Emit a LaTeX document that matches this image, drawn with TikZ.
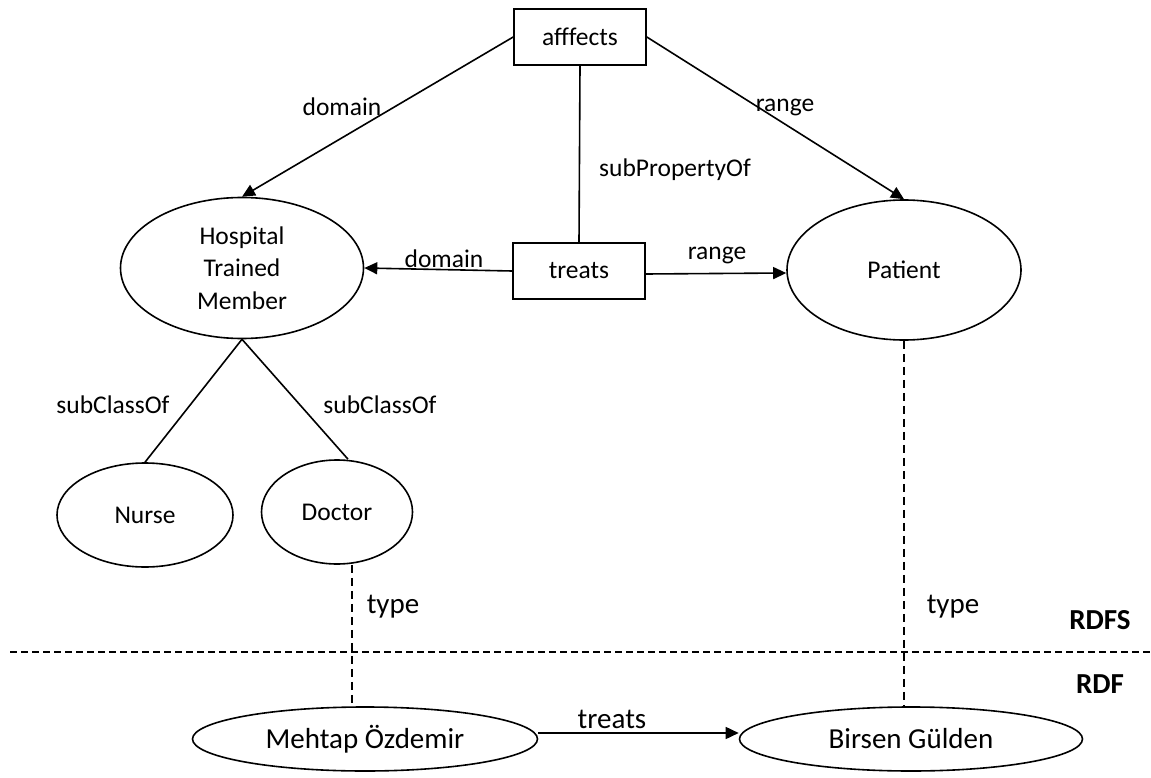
\documentclass[tikz,border=0pt]{standalone}
\usepackage{fontspec}
\setmainfont{Carlito}
\usetikzlibrary{arrows.meta,shapes.geometric}
\begin{document}
\begin{tikzpicture}[x=1pt,y=-1pt,
  every node/.style={font=\fontsize{25.5}{32.5}\selectfont},
  big/.style={font=\fontsize{29}{34}\selectfont},
  line/.style={line width=1.6pt},
  arr/.style={line width=1.6pt,-{Triangle[length=13pt,width=12pt]}},
  dsh/.style={line width=1.2pt,dash pattern=on 8pt off 5pt},
  box/.style={draw,line width=1.6pt,rectangle,minimum width=132pt,minimum height=56pt,inner sep=0pt},
  ell/.style={draw,line width=1.6pt,ellipse,inner sep=0pt},
  lbl/.style={inner sep=1pt},
  bold/.style={font=\fontsize{29}{34}\selectfont\bfseries}]
\useasboundingbox (0,0) rectangle (1151,778);
% nodes
\node[box] (aff) at (580,37) {afffects};
\node[box] (tre) at (579,271) {treats};
\node[ell,minimum width=243pt,minimum height=141pt,align=center] (htm) at (242,268) {Hospital\\Trained\\Member};
\node[ell,minimum width=234pt,minimum height=140pt] (pat) at (904,270) {Patient};
\node[ell,minimum width=176pt,minimum height=104pt] (nur) at (145,515) {Nurse};
\node[ell,minimum width=151pt,minimum height=104pt] (doc) at (337,512) {Doctor};
\node[ell,big,minimum width=345pt,minimum height=64pt] (meh) at (365,739) {Mehtap Özdemir};
\node[ell,big,minimum width=343pt,minimum height=64pt] (bir) at (911,739) {Birsen Gülden};
% connectors
\draw[arr] (aff.west) -- (htm.north);
\draw[arr] (aff.east) -- (pat.north);
\draw[line] (aff.south) -- (tre.north);
\draw[arr] (tre.west) -- (htm.east);
\draw[arr] ([yshift=-3pt]tre.east) -- ([yshift=-3pt]pat.west);
\draw[line] (htm.south) -- (nur.north);
\draw[line] (htm.south) -- ([xshift=11pt]doc.north);
\coordinate (tx) at (352,0);
\draw[dsh] (tx |- doc.south) -- (tx |- meh.north);
\draw[dsh] (pat.south) -- (pat.south |- bir.north);
\draw[arr] ([yshift=6pt]meh.east) -- ([yshift=6pt]bir.west);
\coordinate (hl) at (10,652);
\coordinate (hr) at (1151,652);
\draw[line width=1.4pt,dash pattern=on 7pt off 4pt] (hl) -- (hr);
% labels
\node[lbl] (l1) at (342,107) {domain};
\node[lbl] (l2) at (785,107) {range};
\node[lbl] (l3) at (675,170) {subPropertyOf};
\node[lbl] (l4) at (444,259) {domain};
\node[lbl] (l5) at (717,255) {range};
\node[lbl] (l6) at (113,405) {subClassOf};
\node[lbl] (l7) at (380,405) {subClassOf};
\node[lbl,big] (l8) at (393,607) {type};
\node[lbl,big] (l9) at (953,607) {type};
\node[lbl,big] (l10) at (612,719) {treats};
\node[bold] (rdfs) at (1100,620) {RDFS};
\node[bold] (rdf) at (1100,684) {RDF};
\end{tikzpicture}
\end{document}
